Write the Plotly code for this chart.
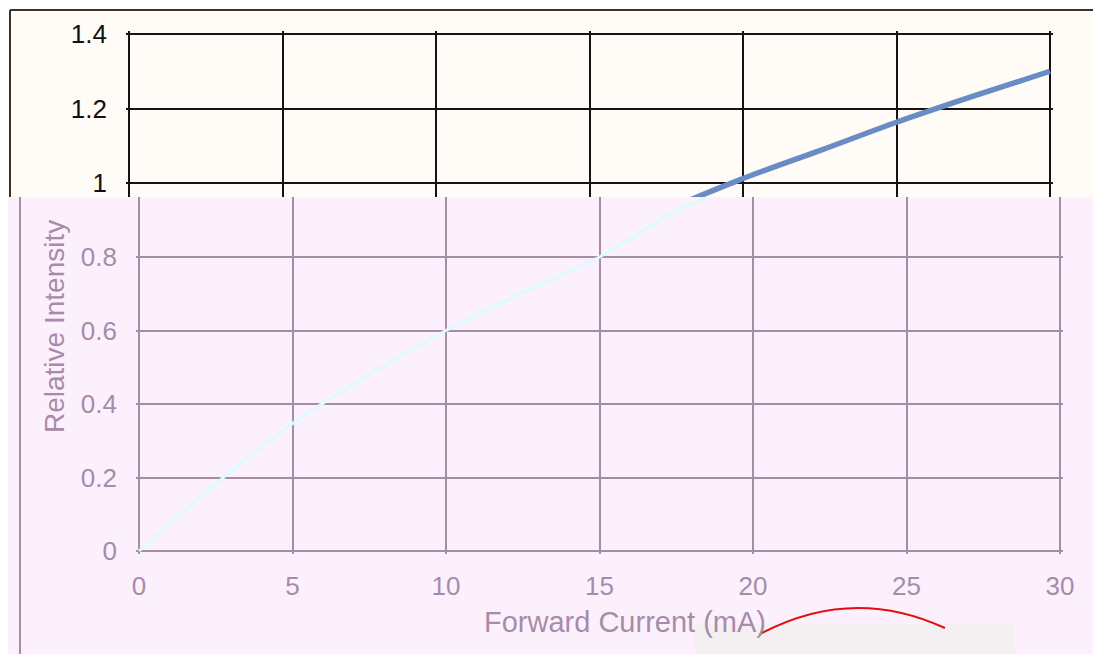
import plotly.graph_objects as go

# ---- data ----
current_ma = [0, 2.5, 5, 7.5, 10, 12.5, 15, 17.5, 20, 22.5, 25, 27.5, 30]
rel_intensity = [0, 0.183, 0.347, 0.48, 0.60, 0.703, 0.80, 0.925, 1.012, 1.087, 1.163, 1.233, 1.30]
x_ticks = [0, 5, 10, 15, 20, 25, 30]
x_ticklabels = ["0", "5", "10", "15", "20", "25", "30"]
y_ticks_low = [0, 0.2, 0.4, 0.6, 0.8]
y_ticklabels_low = ["0", "0.2", "0.4", "0.6", "0.8"]
y_ticks_high = [1.0, 1.2, 1.4]
y_ticklabels_high = ["1", "1.2", "1.4"]

W, H = 1101, 654
OFF = 8  # the page body margin shifts the figure by this many px
def fx(p):
    return (p - OFF) / W
def fy(p):
    return 1 - (p - OFF) / H

DARK = "#1a1212"
CREAM = "#fffbf7"
LAV = "#fdf0fd"
PURP = "#a68ca8"
FONT = "Liberation Sans, Arial, sans-serif"

fig = go.Figure()
fig.add_trace(go.Scatter(x=current_ma, y=rel_intensity, mode="lines",
                         line=dict(color="#6a8cc4", width=5.5, shape="spline", smoothing=0.8),
                         xaxis="x", yaxis="y", showlegend=False, hoverinfo="skip"))
fig.add_trace(go.Scatter(x=current_ma, y=rel_intensity, mode="lines",
                         line=dict(color="#dcfbfd", width=3, shape="spline", smoothing=0.8),
                         xaxis="x2", yaxis="y2", showlegend=False, hoverinfo="skip"))

E = 3  # px of slack at the range ends so edge gridlines are drawn
pxu_top = 372.5  # px per unit, upper panel
pxu_low = 367.5
xpx = 921 / 30.0

fig.update_layout(
    template="none",
    width=W, height=H,
    margin=dict(l=0, r=0, t=0, b=0, pad=0),
    paper_bgcolor="white",
    plot_bgcolor="rgba(0,0,0,0)",
    font=dict(family=FONT),
    xaxis=dict(domain=[fx(129 - E), fx(1050 + E)], range=[-E / xpx, 30 + E / xpx],
               tickvals=x_ticks, showticklabels=False, showgrid=True, automargin=False,
               gridcolor=DARK, gridwidth=2, zeroline=False, showline=False,
               ticks="", anchor="y"),
    yaxis=dict(domain=[fy(197), fy(34 - E)], range=[1.4 - 163 / pxu_top, 1.4 + E / pxu_top],
               tickvals=y_ticks_high, ticktext=y_ticklabels_high, showgrid=True,
               gridcolor=DARK, gridwidth=2, zeroline=False, showline=False, automargin=False,
               ticks="", ticklabelstandoff=18,
               tickfont=dict(size=26, color="#111111", family=FONT), anchor="x"),
    xaxis2=dict(domain=[fx(139 - E), fx(1060 + E)], range=[-E / xpx, 30 + E / xpx],
                tickvals=x_ticks, ticktext=x_ticklabels, showgrid=True, automargin=False,
                gridcolor=PURP, gridwidth=2, zeroline=False, showline=False,
                ticks="", ticklabelstandoff=14,
                tickfont=dict(size=26, color=PURP, family=FONT), anchor="y2"),
    yaxis2=dict(domain=[fy(551 + E), fy(197)], range=[-E / pxu_low, 354 / pxu_low],
                tickvals=y_ticks_low, ticktext=y_ticklabels_low, showgrid=True,
                gridcolor=PURP, gridwidth=2, zeroline=False, showline=False, automargin=False,
                ticks="", ticklabelstandoff=18,
                tickfont=dict(size=26, color=PURP, family=FONT), anchor="x2"),
    shapes=[
        # upper panel background + frame
        dict(type="rect", xref="paper", yref="paper", x0=fx(10), x1=fx(1120),
             y0=fy(197), y1=fy(10), fillcolor=CREAM, line=dict(width=0), layer="below"),
        dict(type="line", xref="paper", yref="paper", x0=fx(10), x1=fx(1120),
             y0=fy(10), y1=fy(10), line=dict(color="#3a3030", width=2), layer="below"),
        dict(type="line", xref="paper", yref="paper", x0=fx(10), x1=fx(10),
             y0=fy(197), y1=fy(10), line=dict(color="#3a3030", width=2), layer="below"),
        # lower panel background + frame
        dict(type="rect", xref="paper", yref="paper", x0=fx(5), x1=fx(1120),
             y0=fy(680), y1=fy(197), fillcolor=LAV, line=dict(width=0), layer="below"),
        dict(type="line", xref="paper", yref="paper", x0=fx(20), x1=fx(20),
             y0=fy(680), y1=fy(197), line=dict(color=PURP, width=2), layer="below"),
        # artifact region at the bottom
        dict(type="rect", xref="paper", yref="paper", x0=fx(695), x1=fx(1015),
             y0=fy(680), y1=fy(624), fillcolor="#f4f0f2", line=dict(width=0), layer="above"),
        dict(type="path", xref="paper", yref="paper",
             path=f"M {fx(760)},{fy(634)} Q {fx(852)},{fy(585)} {fx(945)},{fy(628)}",
             line=dict(color="#e01010", width=2), layer="above"),
    ],
    annotations=[
        dict(text="Relative Intensity", xref="paper", yref="paper", x=fx(55), y=fy(327),
             showarrow=False, textangle=-90, font=dict(size=28, color=PURP, family=FONT),
             xanchor="center", yanchor="middle"),
        dict(text="Forward Current (mA)", xref="paper", yref="paper", x=fx(625), y=fy(622),
             showarrow=False, font=dict(size=29, color=PURP, family=FONT),
             xanchor="center", yanchor="middle"),
    ],
)

fig.write_html("out.html")
